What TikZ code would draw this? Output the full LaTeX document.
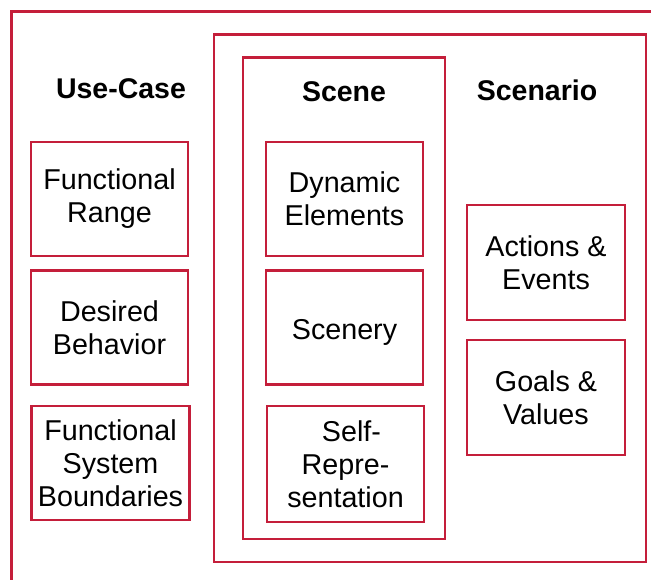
\documentclass[tikz,border=0pt]{standalone}
\usepackage{fontspec}
\setmainfont{Liberation Sans}
\usepackage{tikz}
\definecolor{framered}{HTML}{C41E3A}

\begin{document}
\begin{tikzpicture}[x=1pt,y=-1pt,
        part/.style={draw=framered, line width=2.2pt, minimum width=157pt, minimum height=114pt,
                     align=center, inner sep=0pt, font=\fontsize{28.7}{33}\selectfont},
        heading/.style={font=\fontsize{28.5}{33}\selectfont\bfseries}]
        \useasboundingbox (0,0) rectangle (651,580);
        \clip (0,0) rectangle (651,580);
        % frames
        \draw[framered, line width=2.2pt] (11.5,11.5) rectangle (680,600);
        \draw[framered, line width=2.2pt] (214,34.5) rectangle (646,562);
        \draw[framered, line width=2.2pt] (243,57.5) rectangle (445,539);
        % headings
        \node[heading] (usecase) at (121,89) {Use-Case};
        \node[heading] (scene) at (344,92) {Scene};
        \node[heading] (scenario) at (537,90) {Scenario};
        % use-case parts
        \node[part] (range) at (109.5,199) {Functional\\Range};
        \node[part] (behavior) at (109.5,327.5) {Desired\\Behavior};
        \node[part, minimum width=158pt] (bounds) at (110.5,463) {Functional\\System\\Boundaries};
        % scene parts
        \node[part] (dynamic) at (344.5,199) {Dynamic\\Elements};
        \node[part, text height=24pt, text depth=0pt] (scenery) at (344.5,327.5) {Scenery};
        \node[part, minimum height=116pt] (selfrep) at (345.5,464) {\hspace{12pt}Self-\\Repre-\\sentation};
        % scenario parts
        \node[part, minimum width=158pt, minimum height=115pt] (actions) at (546,262.5) {Actions \&\\Events};
        \node[part, minimum width=158pt, minimum height=115pt] (goals) at (546,397.5) {Goals \&\\Values};
\end{tikzpicture}
\end{document}
